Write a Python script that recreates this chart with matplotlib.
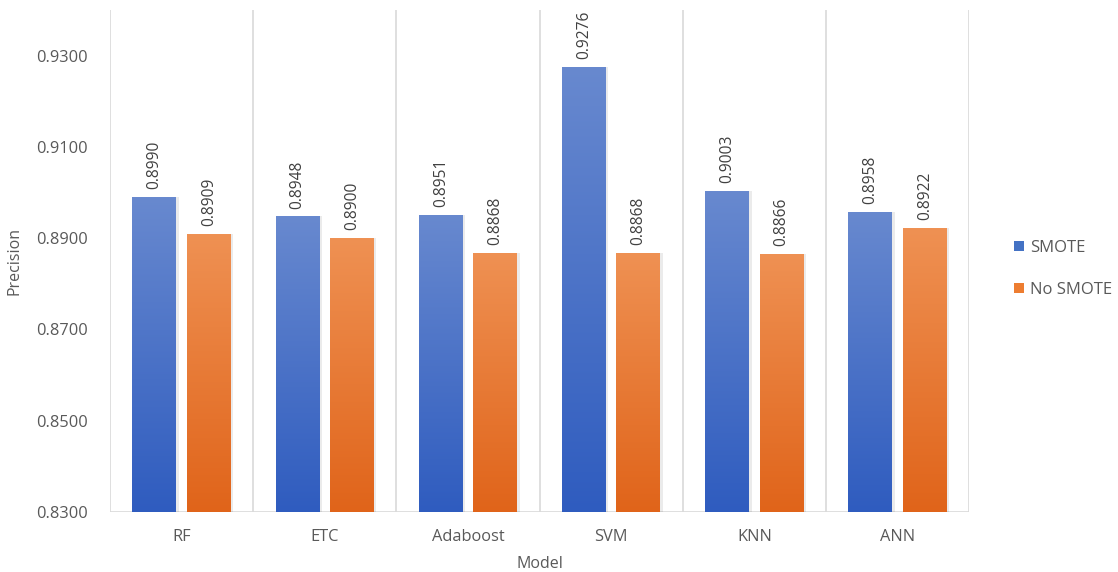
import numpy as np
import matplotlib
matplotlib.use("Agg")
import matplotlib.pyplot as plt
from matplotlib.colors import LinearSegmentedColormap
from matplotlib.patches import Patch

models = ["RF", "ETC", "Adaboost", "SVM", "KNN", "ANN"]
smote = [0.8990, 0.8948, 0.8951, 0.9276, 0.9003, 0.8958]
no_smote = [0.8909, 0.8900, 0.8868, 0.8868, 0.8866, 0.8922]
y_ticks = [0.83, 0.85, 0.87, 0.89, 0.91, 0.93]

plt.rcParams["font.family"] = ["Open Sans", "DejaVu Sans"]
text_color = "#595959"
grid_color = "#d9d9d9"

fig = plt.figure(figsize=(11.18, 5.72), dpi=100)
ax = fig.add_axes([0.0984, 0.1049, 0.7685, 0.8776])

ymin, ymax = 0.83, 0.94
n = len(models)
x = np.arange(n)
width = 0.307
offset = 0.19

blue_cmap = LinearSegmentedColormap.from_list("b", ["#2f5cbf", "#6889cf"])
orange_cmap = LinearSegmentedColormap.from_list("o", ["#e0641a", "#ef9153"])
grad = np.linspace(0, 1, 256).reshape(-1, 1)


def gradient_bars(xs, vals, cmap, base_color):
    bars = ax.bar(xs, np.array(vals) - ymin, width, bottom=ymin,
                  color=base_color, edgecolor="none", zorder=2)
    for b in bars:
        x0, y0 = b.get_x(), b.get_y()
        w, h = b.get_width(), b.get_height()
        # soft shadow
        ax.bar(x0 + w / 2 + 0.012, h, w + 0.01, bottom=y0, color="#000000",
               alpha=0.08, edgecolor="none", zorder=1.5)
        im = ax.imshow(grad, cmap=cmap, aspect="auto", origin="lower",
                       extent=(x0, x0 + w, y0, y0 + h), zorder=3,
                       interpolation="bilinear")
        im.set_clip_path(b)
    return bars


gradient_bars(x - offset, smote, blue_cmap, "#4472c4")
gradient_bars(x + offset, no_smote, orange_cmap, "#ed7d31")

for xi, v in zip(x - offset, smote):
    ax.text(xi, v + 0.0017, f"{v:.4f}", rotation=90, ha="center", va="bottom",
            fontsize=11.2, color="#404040")
for xi, v in zip(x + offset, no_smote):
    ax.text(xi, v + 0.0017, f"{v:.4f}", rotation=90, ha="center", va="bottom",
            fontsize=11.2, color="#404040")

# category separators
for b in np.arange(-0.5, n, 1.0):
    ax.axvline(b, color=grid_color, lw=1.2, zorder=0)
ax.axhline(ymin, color=grid_color, lw=1.2, zorder=0)

ax.set_xlim(-0.5, n - 0.5)
ax.set_ylim(ymin, ymax)
ax.set_xticks(x)
ax.set_xticklabels(models)
ax.set_yticks(y_ticks)
ax.set_yticklabels([f"{t:.4f}" for t in y_ticks])
ax.tick_params(axis="both", length=0, colors=text_color, labelsize=11.8)
ax.tick_params(axis="x", pad=12)
ax.tick_params(axis="y", pad=16)
for s in ax.spines.values():
    s.set_visible(False)

ax.set_xlabel("Model", color=text_color, fontsize=11.5, labelpad=8)
ax.set_ylabel("Precision", color=text_color, fontsize=11.5, labelpad=10)

handles = [Patch(facecolor="#4472c4", label="SMOTE"),
           Patch(facecolor="#ed7d31", label="No SMOTE")]
leg = fig.legend(handles=handles, loc="center left", bbox_to_anchor=(0.894, 0.53),
                 frameon=False, fontsize=12, handlelength=0.55, handleheight=0.55,
                 handletextpad=0.4, labelspacing=1.6)
for t in leg.get_texts():
    t.set_color(text_color)

fig.savefig("out.png", dpi=100, facecolor="white")
